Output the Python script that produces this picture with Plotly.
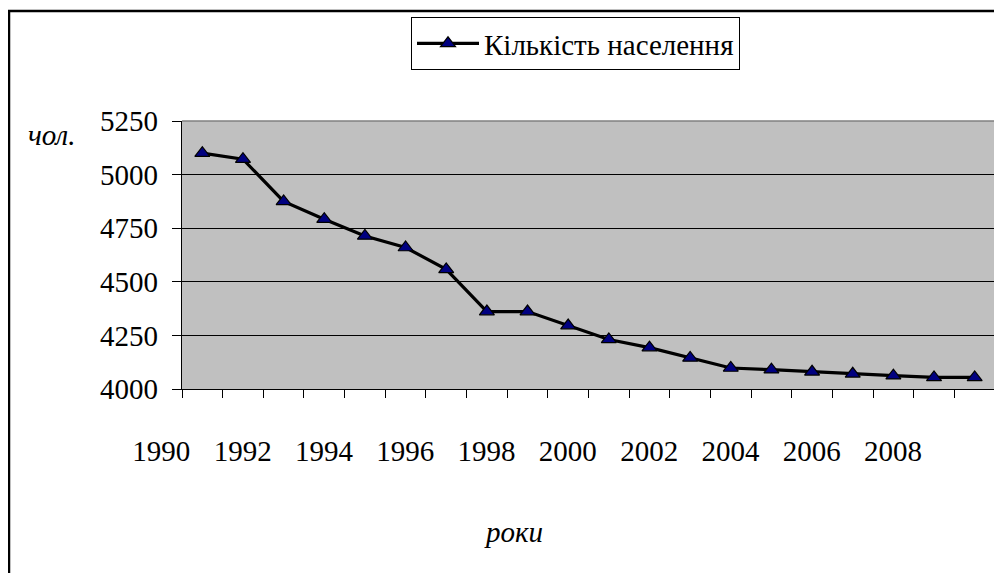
import plotly.graph_objects as go

years = list(range(1990, 2010))
population = [5100, 5072, 4875, 4792, 4714, 4660, 4558, 4361, 4361, 4296,
              4231, 4193, 4145, 4098, 4090, 4080, 4071, 4062, 4054, 4054]
tick_years = list(range(1990, 2010, 2))
tick_labels = [str(y) for y in tick_years]
y_ticks = [4000, 4250, 4500, 4750, 5000, 5250]
series_name = "Кількість населення"
y_title = "чол."
x_title = "роки"

FONT = "'Liberation Serif', 'Times New Roman', Tinos, 'DejaVu Serif', serif"
OFF = 8  # page body margin offset
W, H = 1002 - OFF, 573 - OFF
ML, MR, MT, MB = 174, 7, 113, 184
pw = W - ML - MR
ph = H - MT - MB


def px_x(p):
    return (p - OFF - ML) / pw


def px_y(p):
    return (H - MB - (p - OFF)) / ph


fig = go.Figure()
fig.add_trace(go.Scatter(
    x=years, y=population, mode="lines+markers", name=series_name,
    line=dict(color="black", width=3.2),
    marker=dict(symbol="triangle-up", size=13, color="#000080",
                line=dict(color="black", width=1.2)),
))

fig.update_layout(
    width=W, height=H,
    margin=dict(l=ML, r=MR, t=MT, b=MB),
    paper_bgcolor="white",
    plot_bgcolor="#C0C0C0",
    font=dict(family=FONT, size=29, color="black"),
    showlegend=True,
    legend=dict(x=px_x(411), y=px_y(17), xanchor="left", yanchor="top",
                bgcolor="white", bordercolor="black", borderwidth=1,
                font=dict(family=FONT, size=29, color="black"),
                itemwidth=62),
    xaxis=dict(range=[1989.5, 2009.5], tickmode="array", tickvals=tick_years,
               ticktext=tick_labels, ticks="", showgrid=False, zeroline=False,
               showline=True, linecolor="black", linewidth=1.2,
               ticklabelshift=-round(pw / 20), ticklabelstandoff=36,
               tickfont=dict(family=FONT, size=29, color="black"),
               minor=dict(tick0=1989.5, dtick=1, ticks="outside", ticklen=8,
                          tickcolor="black", tickwidth=1, showgrid=False)),
    yaxis=dict(range=[4000, 5250], tickmode="array", tickvals=y_ticks,
               ticks="outside", ticklen=9, tickcolor="black", tickwidth=1,
               showgrid=True, gridcolor="black", gridwidth=1, zeroline=False,
               showline=True, linecolor="black", linewidth=1.2,
               ticklabelstandoff=8,
               tickfont=dict(family=FONT, size=29, color="black")),
    shapes=[
        dict(type="line", xref="paper", yref="paper", x0=0, x1=1, y0=1, y1=1,
             line=dict(color="#808080", width=1.5)),
        dict(type="line", xref="paper", yref="paper", x0=1, x1=1, y0=0, y1=1,
             line=dict(color="#808080", width=1.5)),
        dict(type="rect", xref="paper", yref="paper",
             x0=px_x(9), x1=px_x(1020), y0=px_y(600), y1=px_y(11),
             line=dict(color="black", width=2.5)),
    ],
    annotations=[
        dict(text="<i>" + y_title + "</i>", xref="paper", yref="paper",
             x=px_x(52), y=px_y(135), xanchor="center", yanchor="middle",
             showarrow=False, font=dict(family=FONT, size=29, color="black")),
        dict(text="<i>" + x_title + "</i>", xref="paper", yref="paper",
             x=px_x(513), y=px_y(532), xanchor="center", yanchor="middle",
             showarrow=False, font=dict(family=FONT, size=29, color="black")),
    ],
)

fig.write_html("out.html")
